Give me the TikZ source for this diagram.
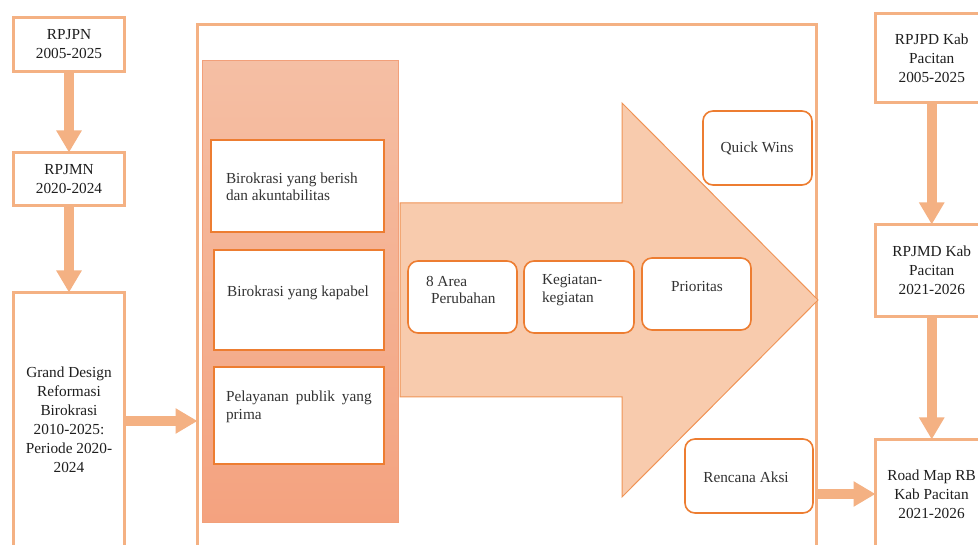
\documentclass[tikz,border=0pt]{standalone}
\usepackage{fontspec}
\setmainfont{Liberation Serif}
\usetikzlibrary{arrows.meta}
\definecolor{peach}{HTML}{F4B183}
\definecolor{arrowfill}{HTML}{F8CBAD}
\definecolor{darkor}{HTML}{ED7D31}
\definecolor{coltop}{HTML}{F5BFA4}
\definecolor{colbot}{HTML}{F4A27F}
\definecolor{colborder}{HTML}{F2A07A}
\definecolor{txt}{HTML}{1E1E1E}
\definecolor{txtin}{HTML}{333333}
\begin{document}
\begin{tikzpicture}[x=1pt,y=-1pt,
  every node/.style={font=\fontsize{15.3}{19}\selectfont, text=txt, inner sep=0pt, outer sep=0pt},
  docbox/.style={draw=peach, line width=3pt, fill=white},
  itembox/.style={draw=darkor, line width=1.6pt, fill=white},
  pill/.style={draw=darkor, line width=1.6pt, fill=white, rounded corners=10pt},
  intext/.style={text=txtin, font=\fontsize{15.3}{17.5}\selectfont},
  flow/.style={draw=peach, line width=10pt, -{Triangle[width=24pt,length=22pt]}},
]
\clip (0,0) rectangle (978,545);
\fill[white] (0,0) rectangle (978,545);

% outer frame
\node[draw=peach, line width=3pt, minimum width=619pt, minimum height=535.5pt] (outer) at (507,292.25) {};

% left column
\node[docbox, minimum width=111pt, minimum height=54pt, align=center] (rpjpn) at (69,44.5) {RPJPN\\2005-2025};
\node[docbox, minimum width=111pt, minimum height=53pt, align=center] (rpjmn) at (69,179) {RPJMN\\2020-2024};
\node[docbox, minimum width=111pt, minimum height=257pt] (gd) at (69,421) {};
\node[align=center] (gdtext) at (69,420) {Grand Design\\Reformasi\\Birokrasi\\2010-2025:\\Periode 2020-\\2024};

\draw[flow] (rpjpn.south) -- (rpjmn.north);
\draw[flow] (rpjmn.south) -- (gd.north);
\draw[flow] (gd.east) -- (gd.east -| outer.west);

% shaded column
\node[draw=colborder, line width=1pt, top color=coltop, bottom color=colbot, minimum width=196pt, minimum height=461pt] (col) at (300,291.5) {};
\node[itembox, minimum width=173pt, minimum height=92pt] (b1) at (297.5,186) {};
\node[itembox, minimum width=170pt, minimum height=100pt] (b2) at (299,300) {};
\node[itembox, minimum width=170pt, minimum height=97pt] (b3) at (299,415.5) {};
\node[intext, anchor=west, align=left] (t1) at (226,187) {Birokrasi yang berish\\dan akuntabilitas};
\node[intext] (t2) at (298,293) {Birokrasi yang kapabel};
\node[intext, anchor=west, align=left] (t3) at (226,407) {Pelayanan\hspace{7pt}publik\hspace{7pt}yang\\prima};

% big arrow
\draw[draw=darkor!70!arrowfill, line width=1pt, fill=arrowfill]
  (400,203) -- (622,203) -- (622,103) -- (818,300) -- (622,497) -- (622,397) -- (400,397) -- cycle;

\node[pill, minimum width=109pt, minimum height=72pt] (p1) at (462.5,297) {};
\node[pill, minimum width=110pt, minimum height=72pt] (p2) at (579,297) {};
\node[pill, minimum width=109pt, minimum height=72pt] (p3) at (696.5,294) {};
\node[pill, minimum width=109pt, minimum height=74pt] (qw) at (757.5,148) {};
\node[pill, minimum width=128pt, minimum height=74pt] (ra) at (749,476) {};

\node[intext, anchor=west, align=left] (tp1) at (426,290) {8 Area\\\hspace*{5pt}Perubahan};
\node[intext, anchor=west, align=left] (tp2) at (542,290) {Kegiatan-\\kegiatan};
\node[intext] (tp3) at (697,287) {Prioritas};
\node[intext] (tqw) at (757,148) {Quick Wins};
\node[intext] (tra) at (746,477) {Rencana Aksi};

% right column
\node[docbox, minimum width=112.5pt, minimum height=89pt, align=center] (rpjpd) at (931.75,58) {RPJPD Kab\\Pacitan\\2005-2025};
\node[docbox, minimum width=112.5pt, minimum height=92pt, align=center] (rpjmd) at (931.75,270.5) {RPJMD Kab\\Pacitan\\2021-2026};
\node[docbox, minimum width=112.5pt, minimum height=120.5pt] (rm) at (931.75,499.75) {};
\node[align=center] (rmtext) at (931.5,494) {Road Map RB\\Kab Pacitan\\2021-2026};

\draw[flow] (rpjpd.south) -- (rpjmd.north);
\draw[flow] (rpjmd.south) -- (rm.north);
\draw[flow] (outer.east |- rmtext) -- (rm.west |- rmtext);
\end{tikzpicture}
\end{document}
